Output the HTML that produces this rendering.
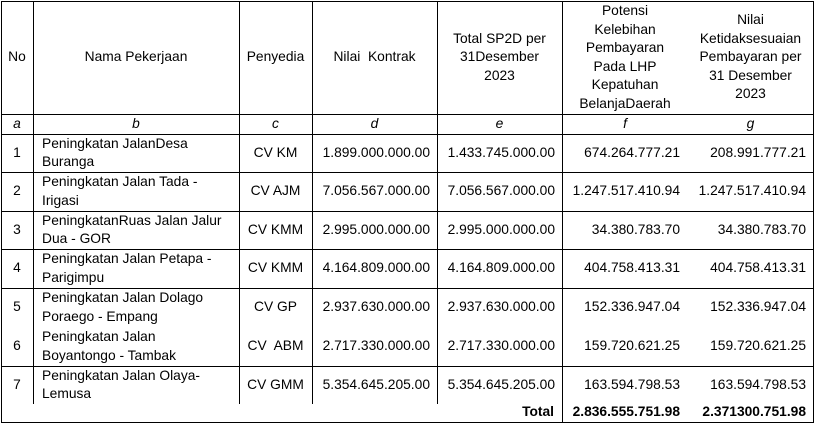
<!DOCTYPE html>
<html><head><meta charset="utf-8"><style>
body{margin:0;width:819px;height:427px;background:#fff;position:relative;overflow:hidden;font-family:"Liberation Sans",sans-serif;font-size:13.8px;color:#000}
.h{position:absolute;height:1px;background:#000}
.v{position:absolute;width:1px;background:#000}
.c{position:absolute;display:flex;align-items:center;line-height:18.5px;white-space:nowrap}
.cc{justify-content:center;text-align:center}
.r{justify-content:flex-end;text-align:right}
.l{justify-content:flex-start}
i{font-style:italic}
b{font-weight:bold}
</style></head><body>
<div class="h" style="left:1px;top:1px;width:813px"></div>
<div class="h" style="left:1px;top:114px;width:813px"></div>
<div class="h" style="left:1px;top:134px;width:813px"></div>
<div class="h" style="left:1px;top:172px;width:813px"></div>
<div class="h" style="left:1px;top:211px;width:813px"></div>
<div class="h" style="left:1px;top:249px;width:813px"></div>
<div class="h" style="left:1px;top:288px;width:813px"></div>
<div class="h" style="left:1px;top:366px;width:813px"></div>
<div class="h" style="left:1px;top:422px;width:813px"></div>
<div class="v" style="left:1px;top:1px;height:422px"></div>
<div class="v" style="left:813px;top:1px;height:422px"></div>
<div class="v" style="left:33px;top:1px;height:403px"></div>
<div class="v" style="left:239px;top:1px;height:403px"></div>
<div class="v" style="left:312px;top:1px;height:403px"></div>
<div class="v" style="left:437px;top:1px;height:403px"></div>
<div class="v" style="left:562px;top:1px;height:422px"></div>

<div class="c cc" style="left:1px;top:1px;width:32px;height:113px">No</div>
<div class="c cc" style="left:33px;top:1px;width:206px;height:113px">Nama Pekerjaan</div>
<div class="c cc" style="left:239px;top:1px;width:73px;height:113px">Penyedia</div>
<div class="c cc" style="left:312px;top:1px;width:125px;height:113px">Nilai&nbsp; Kontrak</div>
<div class="c cc" style="left:437px;top:1px;width:125px;height:113px">Total SP2D per<br>31Desember<br>2023</div>
<div class="c cc" style="left:562px;top:1px;width:126px;height:113px">Potensi<br>Kelebihan<br>Pembayaran<br>Pada LHP<br>Kepatuhan<br>BelanjaDaerah</div>
<div class="c cc" style="left:688px;top:1px;width:125px;height:113px">Nilai<br>Ketidaksesuaian<br>Pembayaran per<br>31 Desember<br>2023</div>

<div class="c cc" style="left:1px;top:114px;width:32px;height:20px"><i>a</i></div>
<div class="c cc" style="left:33px;top:114px;width:206px;height:20px"><i>b</i></div>
<div class="c cc" style="left:239px;top:114px;width:73px;height:20px"><i>c</i></div>
<div class="c cc" style="left:312px;top:114px;width:125px;height:20px"><i>d</i></div>
<div class="c cc" style="left:437px;top:114px;width:125px;height:20px"><i>e</i></div>
<div class="c cc" style="left:562px;top:114px;width:126px;height:20px"><i>f</i></div>
<div class="c cc" style="left:688px;top:114px;width:125px;height:20px"><i>g</i></div>

<div class="c cc" style="left:1px;top:134px;width:32px;height:38px">1</div>
<div class="c l" style="left:42px;top:134px;width:197px;height:38px">Peningkatan JalanDesa<br>Buranga</div>
<div class="c cc" style="left:239px;top:134px;width:73px;height:38px">CV KM</div>
<div class="c r" style="left:312px;top:134px;width:118px;height:38px">1.899.000.000.00</div>
<div class="c r" style="left:437px;top:134px;width:118px;height:38px">1.433.745.000.00</div>
<div class="c r" style="left:562px;top:134px;width:118px;height:38px">674.264.777.21</div>
<div class="c r" style="left:688px;top:134px;width:118px;height:38px">208.991.777.21</div>

<div class="c cc" style="left:1px;top:172px;width:32px;height:39px">2</div>
<div class="c l" style="left:42px;top:172px;width:197px;height:39px">Peningkatan Jalan Tada -<br>Irigasi</div>
<div class="c cc" style="left:239px;top:172px;width:73px;height:39px">CV AJM</div>
<div class="c r" style="left:312px;top:172px;width:118px;height:39px">7.056.567.000.00</div>
<div class="c r" style="left:437px;top:172px;width:118px;height:39px">7.056.567.000.00</div>
<div class="c r" style="left:562px;top:172px;width:118px;height:39px">1.247.517.410.94</div>
<div class="c r" style="left:688px;top:172px;width:118px;height:39px">1.247.517.410.94</div>

<div class="c cc" style="left:1px;top:211px;width:32px;height:38px">3</div>
<div class="c l" style="left:42px;top:211px;width:197px;height:38px">PeningkatanRuas Jalan Jalur<br>Dua - GOR</div>
<div class="c cc" style="left:239px;top:211px;width:73px;height:38px">CV KMM</div>
<div class="c r" style="left:312px;top:211px;width:118px;height:38px">2.995.000.000.00</div>
<div class="c r" style="left:437px;top:211px;width:118px;height:38px">2.995.000.000.00</div>
<div class="c r" style="left:562px;top:211px;width:118px;height:38px">34.380.783.70</div>
<div class="c r" style="left:688px;top:211px;width:118px;height:38px">34.380.783.70</div>

<div class="c cc" style="left:1px;top:249px;width:32px;height:39px">4</div>
<div class="c l" style="left:42px;top:249px;width:197px;height:39px">Peningkatan Jalan Petapa -<br>Parigimpu</div>
<div class="c cc" style="left:239px;top:249px;width:73px;height:39px">CV KMM</div>
<div class="c r" style="left:312px;top:249px;width:118px;height:39px">4.164.809.000.00</div>
<div class="c r" style="left:437px;top:249px;width:118px;height:39px">4.164.809.000.00</div>
<div class="c r" style="left:562px;top:249px;width:118px;height:39px">404.758.413.31</div>
<div class="c r" style="left:688px;top:249px;width:118px;height:39px">404.758.413.31</div>

<div class="c cc" style="left:1px;top:288px;width:32px;height:39px">5</div>
<div class="c l" style="left:42px;top:288px;width:197px;height:39px">Peningkatan Jalan Dolago<br>Poraego - Empang</div>
<div class="c cc" style="left:239px;top:288px;width:73px;height:39px">CV GP</div>
<div class="c r" style="left:312px;top:288px;width:118px;height:39px">2.937.630.000.00</div>
<div class="c r" style="left:437px;top:288px;width:118px;height:39px">2.937.630.000.00</div>
<div class="c r" style="left:562px;top:288px;width:118px;height:39px">152.336.947.04</div>
<div class="c r" style="left:688px;top:288px;width:118px;height:39px">152.336.947.04</div>

<div class="c cc" style="left:1px;top:327px;width:32px;height:39px">6</div>
<div class="c l" style="left:42px;top:327px;width:197px;height:39px">Peningkatan Jalan<br>Boyantongo - Tambak</div>
<div class="c cc" style="left:239px;top:327px;width:73px;height:39px">CV&nbsp; ABM</div>
<div class="c r" style="left:312px;top:327px;width:118px;height:39px">2.717.330.000.00</div>
<div class="c r" style="left:437px;top:327px;width:118px;height:39px">2.717.330.000.00</div>
<div class="c r" style="left:562px;top:327px;width:118px;height:39px">159.720.621.25</div>
<div class="c r" style="left:688px;top:327px;width:118px;height:39px">159.720.621.25</div>

<div class="c cc" style="left:1px;top:366px;width:32px;height:38px">7</div>
<div class="c l" style="left:42px;top:366px;width:197px;height:38px">Peningkatan Jalan Olaya-<br>Lemusa</div>
<div class="c cc" style="left:239px;top:366px;width:73px;height:38px">CV GMM</div>
<div class="c r" style="left:312px;top:366px;width:118px;height:38px">5.354.645.205.00</div>
<div class="c r" style="left:437px;top:366px;width:118px;height:38px">5.354.645.205.00</div>
<div class="c r" style="left:562px;top:366px;width:118px;height:38px">163.594.798.53</div>
<div class="c r" style="left:688px;top:366px;width:118px;height:38px">163.594.798.53</div>

<div class="c r" style="left:437px;top:403px;width:117px;height:19px"><b>Total</b></div>
<div class="c r" style="left:562px;top:403px;width:118px;height:19px"><b>2.836.555.751.98</b></div>
<div class="c r" style="left:688px;top:403px;width:118px;height:19px"><b>2.371300.751.98</b></div>
</body></html>
